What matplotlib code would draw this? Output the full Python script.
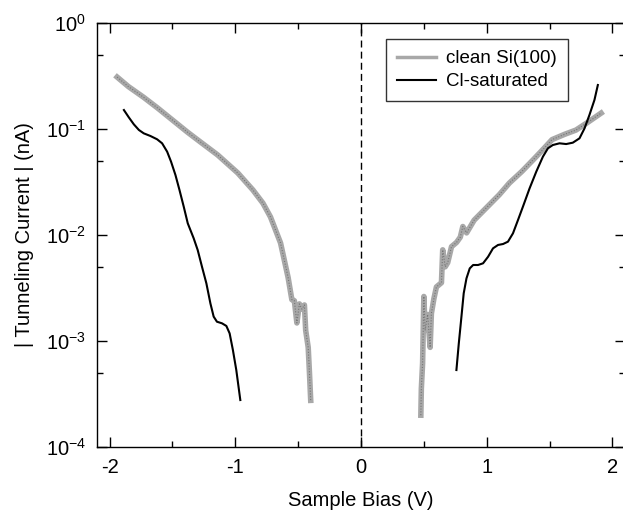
import matplotlib.pyplot as plt
from matplotlib.ticker import LogLocator, FixedLocator, NullFormatter

plt.rcParams['font.family'] = ['Liberation Sans', 'DejaVu Sans']
plt.rcParams['mathtext.fontset'] = 'custom'
plt.rcParams['mathtext.rm'] = 'Liberation Sans'
plt.rcParams['mathtext.default'] = 'regular'

# clean Si(100), negative bias branch (log10 of current in nA)
clean_neg_v = [-1.94, -1.85, -1.73, -1.62, -1.50, -1.38, -1.28, -1.14, -0.98, -0.86,
               -0.78, -0.72, -0.64, -0.58, -0.55, -0.53, -0.51, -0.49, -0.47, -0.45,
               -0.44, -0.42, -0.41, -0.40]
clean_neg_log = [-0.51, -0.60, -0.70, -0.80, -0.915, -1.03, -1.12, -1.245, -1.415, -1.575,
                 -1.70, -1.83, -2.075, -2.40, -2.61, -2.62, -2.83, -2.65, -2.70, -2.66,
                 -2.90, -3.06, -3.30, -3.56]

# clean Si(100), positive bias branch
clean_pos_v = [0.476, 0.48, 0.49, 0.50, 0.51, 0.53, 0.55, 0.56, 0.58, 0.60, 0.64, 0.65,
               0.67, 0.69, 0.72, 0.76, 0.79, 0.81, 0.84, 0.90, 1.0, 1.10, 1.18, 1.28,
               1.37, 1.45, 1.52, 1.62, 1.71, 1.80, 1.91]
clean_pos_log = [-3.70, -3.45, -3.21, -2.58, -2.90, -2.75, -3.06, -2.74, -2.60, -2.49,
                 -2.45, -2.14, -2.30, -2.26, -2.11, -2.07, -2.02, -1.92, -1.98, -1.86,
                 -1.74, -1.62, -1.51, -1.40, -1.29, -1.19, -1.10, -1.05, -1.01, -0.94,
                 -0.85]

# Cl-saturated, negative bias branch
cl_neg_v = [-1.886, -1.847, -1.807, -1.767, -1.728, -1.675, -1.622, -1.582, -1.542,
            -1.511, -1.476, -1.444, -1.410, -1.378, -1.331, -1.299, -1.265, -1.230,
            -1.198, -1.172, -1.146, -1.106, -1.071, -1.045, -1.019, -0.992, -0.960]
cl_neg_log = [-0.821, -0.890, -0.956, -1.009, -1.041, -1.066, -1.097, -1.135, -1.214,
              -1.308, -1.434, -1.575, -1.733, -1.890, -2.031, -2.142, -2.299, -2.456,
              -2.645, -2.770, -2.818, -2.833, -2.858, -2.928, -3.085, -3.274, -3.557]

# Cl-saturated, positive bias branch
cl_pos_v = [0.759, 0.778, 0.799, 0.817, 0.839, 0.865, 0.892, 0.931, 0.971, 1.011,
            1.050, 1.090, 1.130, 1.169, 1.209, 1.249, 1.288, 1.341, 1.394, 1.447,
            1.487, 1.526, 1.579, 1.632, 1.685, 1.738, 1.778, 1.817, 1.857, 1.884]
cl_pos_log = [-3.274, -3.022, -2.770, -2.550, -2.409, -2.315, -2.283, -2.283, -2.267,
              -2.205, -2.126, -2.094, -2.085, -2.063, -1.984, -1.858, -1.733, -1.560,
              -1.403, -1.261, -1.182, -1.151, -1.135, -1.142, -1.129, -1.088, -0.994,
              -0.868, -0.726, -0.585]

x_ticks = [-2, -1, 0, 1, 2]
x_minor = [-1.5, -0.5, 0.5, 1.5]
y_ticks = [1e-4, 1e-3, 1e-2, 1e-1, 1e0]
y_labels = ['$10^{-4}$', '$10^{-3}$', '$10^{-2}$', '$10^{-1}$', '$10^{0}$']

fig = plt.figure(figsize=(6.23, 5.14), dpi=100)
ax = fig.add_axes([97 / 623, 67 / 514, 528 / 623, 424 / 514])

gray = '#a8a8a8'
ax.plot(clean_neg_v, [10 ** v for v in clean_neg_log], color=gray, lw=4,
        solid_joinstyle='round', label='clean Si(100)')
ax.plot(clean_pos_v, [10 ** v for v in clean_pos_log], color=gray, lw=4,
        solid_joinstyle='round')
ax.plot(clean_neg_v, [10 ** v for v in clean_neg_log], color='#757575', lw=0.8, ls=(0, (1, 1.5)))
ax.plot(clean_pos_v, [10 ** v for v in clean_pos_log], color='#757575', lw=0.8, ls=(0, (1, 1.5)))

ax.plot(cl_neg_v, [10 ** v for v in cl_neg_log], color='black', lw=1.5, label='Cl-saturated')
ax.plot(cl_pos_v, [10 ** v for v in cl_pos_log], color='black', lw=1.5)

ax.axvline(0, color='black', lw=1, ls=(0, (5, 3)))

ax.set_yscale('log')
ax.set_xlim(-2.1, 2.1)
ax.set_ylim(1e-4, 1e0)
ax.set_xticks(x_ticks)
ax.set_xticklabels([str(t) for t in x_ticks])
ax.xaxis.set_minor_locator(FixedLocator(x_minor))
ax.set_yticks(y_ticks)
ax.set_yticklabels(y_labels)
ax.yaxis.set_minor_locator(LogLocator(base=10, subs=[5.0]))
ax.yaxis.set_minor_formatter(NullFormatter())

ax.tick_params(which='both', direction='in', top=True, right=True, labelsize=14.5, width=1)
ax.tick_params(which='major', length=7, pad=8)
ax.tick_params(which='minor', length=4)
for s in ax.spines.values():
    s.set_linewidth(1)

ax.set_xlabel('Sample Bias (V)', fontsize=14.5, labelpad=10)
ax.set_ylabel('| Tunneling Current | (nA)', fontsize=14.5, labelpad=8)

leg = ax.legend(loc='upper left', bbox_to_anchor=(0.547, 0.962), borderaxespad=0,
                fontsize=13.5, frameon=True, fancybox=False, edgecolor='black',
                handlelength=2.1, handletextpad=0.5, borderpad=0.6, labelspacing=0.3)
leg.get_frame().set_linewidth(1)
leg.legend_handles[0].set_linewidth(2.5)

fig.savefig('out.png', dpi=100)
